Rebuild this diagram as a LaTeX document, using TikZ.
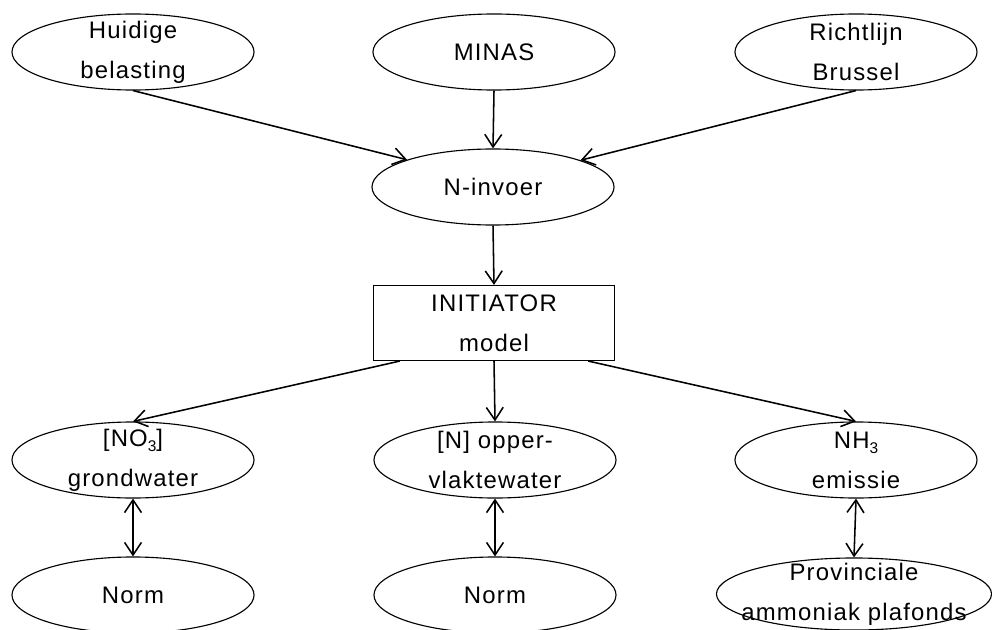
\documentclass[tikz,border=0pt]{standalone}
\usepackage{fontspec}
\setmainfont{Liberation Sans}[LetterSpace=5]
\usetikzlibrary{shapes.geometric,arrows.meta}

\tikzset{
  oval/.style={ellipse, draw, line width=0.8pt, minimum width=6.05cm,
    minimum height=1.9cm, inner sep=-1cm, align=center},
  modelbox/.style={rectangle, draw, line width=0.8pt, minimum width=6.025cm,
    minimum height=1.875cm, inner sep=0pt, align=center}
}
\newcommand{\onder}[1]{\raisebox{-4pt}{\fontsize{11}{11}\selectfont #1}}

\begin{document}
\begin{tikzpicture}[x=0.025cm,y=-0.025cm,line width=1.1pt,
  >={Straight Barb[length=9pt,width=12pt]},
  every node/.style={font=\fontsize{17}{28.5}\selectfont}]
\useasboundingbox (0,0) rectangle (992,630);
% invoer
\node[oval] (huidige) at (133,52) {Huidige\\belasting};
\node[oval] (minas) at (494,52) {MINAS};
\node[oval] (richtlijn) at (856,52) {Richtlijn\\Brussel};
\node[oval] (invoer) at (493,187) {N-invoer};
\node[modelbox] (initiator) at (494,323) {INITIATOR\\model};
% uitvoer
\node[oval] (nitraat) at (133,460) {[NO\onder{3}]\\grondwater};
\node[oval] (opper) at (495,460) {[N] opper-\\vlaktewater};
\node[oval] (emissie) at (856,460) {NH\onder{3}\\emissie};
\node[oval] (norma) at (133,595) {Norm};
\node[oval] (normb) at (495,595) {Norm};
\node[oval,minimum width=6.875cm,minimum height=1.8cm] (plafond) at (854,594)
  {Provinciale\\ammoniak plafonds};

\draw[->] (huidige.south) -- (invoer.north west);
\draw[->] (minas.south) -- (invoer.north);
\draw[->] (richtlijn.south) -- (invoer.17);
\draw[->] (invoer.south) -- (initiator.north);
\draw[->] (initiator.202) -- (nitraat.north);
\draw[->] (initiator.south) -- (opper.north);
\draw[->] (initiator.-22) -- (emissie.north);
\foreach \a/\b in {nitraat/norma,opper/normb,emissie/plafond}
  \draw[<->] (\a.south) -- (\b.north);
\end{tikzpicture}
\end{document}
